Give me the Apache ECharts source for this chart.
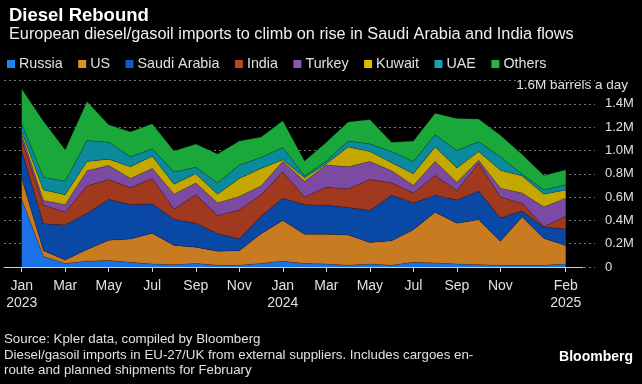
<!DOCTYPE html>
<html><head><meta charset="utf-8">
<script src="https://cdn.jsdelivr.net/npm/echarts@6/dist/echarts.min.js"></script>
<style>html,body{margin:0;padding:0;background:#000}#c{width:642px;height:384px}</style>
</head><body><div id="c"></div>
<script>
const months = ['2023-01','2023-02','2023-03','2023-04','2023-05','2023-06','2023-07','2023-08','2023-09','2023-10','2023-11','2023-12',
  '2024-01','2024-02','2024-03','2024-04','2024-05','2024-06','2024-07','2024-08','2024-09','2024-10','2024-11','2024-12','2025-01','2025-02'];
const tickLabels = ['Jan\n2023','','Mar','','May','','Jul','','Sep','','Nov','','Jan\n2024','','Mar','','May','','Jul','','Sep','','Nov','','','Feb\n2025'];
const yTicks = [0,0.2,0.4,0.6,0.8,1.0,1.2,1.4,1.6];
const unitLabel = '1.6M barrels a day';

const russia = [0.58,0.09,0.03,0.05,0.055,0.04,0.025,0.02,0.03,0.015,0.015,0.03,0.05,0.03,0.025,0.015,0.025,0.015,0.04,0.035,0.025,0.02,0.015,0.015,0.015,0.025];
const us     = [0.18,0.05,0.03,0.10,0.175,0.20,0.265,0.165,0.14,0.12,0.125,0.255,0.35,0.25,0.255,0.26,0.185,0.21,0.28,0.435,0.35,0.385,0.205,0.415,0.23,0.16];
const saudi  = [0.24,0.23,0.30,0.31,0.35,0.295,0.25,0.225,0.205,0.15,0.10,0.15,0.19,0.255,0.25,0.235,0.275,0.39,0.23,0.145,0.20,0.245,0.20,0.05,0.095,0.14];
const india  = [0.09,0.16,0.11,0.235,0.17,0.145,0.22,0.085,0.245,0.155,0.25,0.185,0.225,0.065,0.155,0.16,0.265,0.105,0.085,0.17,0.08,0.24,0.18,0.065,0.005,0.11];
const turkey = [0.045,0.04,0.065,0.13,0.12,0.08,0.085,0.13,0.10,0.11,0.115,0.075,0.09,0.135,0.19,0.19,0.155,0.105,0.065,0.12,0.07,0.025,0.075,0.09,0.17,0.155];
const kuwait = [0.025,0.09,0.085,0.08,0.055,0.10,0.105,0.085,0.08,0.075,0.155,0.15,0.015,0.03,0.01,0.17,0.085,0.07,0.10,0.125,0.125,0.075,0.155,0.145,0.11,0.07];
const uae    = [0.07,0.11,0.115,0.18,0.145,0.085,0.065,0.105,0.055,0.095,0.115,0.095,0.105,0.015,0.025,0.05,0.065,0.095,0.105,0.105,0.15,0.085,0.115,0.015,0.035,0.045];
const others = [0.30,0.48,0.27,0.335,0.15,0.215,0.215,0.18,0.20,0.25,0.205,0.175,0.23,0.13,0.16,0.165,0.21,0.08,0.175,0.185,0.275,0.195,0.185,0.17,0.125,0.13];

const seriesDefs = [
  ['Russia', russia, '#1e86f5', '#1a72e6'],
  ['US', us, '#e08d2a', '#c97b22'],
  ['Saudi Arabia', saudi, '#1658c0', '#0a48a6'],
  ['India', india, '#b8461f', '#a0391d'],
  ['Turkey', turkey, '#8c56b6', '#7c4aa2'],
  ['Kuwait', kuwait, '#d6c000', '#c4a800'],
  ['UAE', uae, '#16a0b4', '#0a8a9c'],
  ['Others', others, '#22b84a', '#1aa83a']
];

const FONT = '"Liberation Sans", Arial, sans-serif';
const TOP = 80.5, BOTTOM = 117;

const chart = echarts.init(document.getElementById('c'));
chart.setOption({
  backgroundColor: '#000',
  animation: false,
  textStyle: {fontFamily: FONT},
  title: [
    {text: 'Diesel Rebound', left: 4, top: 1, textStyle: {color: '#fff', fontSize: 18.5, fontWeight: 'bold', fontFamily: FONT}},
    {text: 'European diesel/gasoil imports to climb on rise in Saudi Arabia and India flows', left: 4, top: 22, textStyle: {color: '#f0f0f0', fontSize: 16.3, fontWeight: 'normal', fontFamily: FONT}},
    {text: unitLabel, right: 9, top: 73, textStyle: {color: '#e0e0e0', fontSize: 13.5, fontWeight: 'normal', fontFamily: FONT}}
  ],
  legend: {
    left: 2, top: 52, itemWidth: 8, itemHeight: 8, itemGap: 15.5, icon: 'rect',
    textStyle: {color: '#e0e0e0', fontSize: 14.3, fontFamily: FONT, padding: [0,0,0,-1]},
    data: seriesDefs.map(d => d[0])
  },
  grid: [
    {left: 4, right: 47, top: TOP, bottom: BOTTOM},
    {left: 4, right: 59, top: TOP, bottom: BOTTOM},
    {left: 21.7, right: 76.3, top: TOP, bottom: BOTTOM}
  ],
  xAxis: [
    {gridIndex: 0, type: 'value', show: false, min: 0, max: 1},
    {gridIndex: 1, type: 'value', min: 0, max: 1, axisLine: {show: true, lineStyle: {color: '#cfcfcf', width: 1}}, axisTick: {show: false}, axisLabel: {show: false}, splitLine: {show: false}},
    {gridIndex: 2, type: 'category', data: months, boundaryGap: false,
      axisLine: {show: false},
      axisTick: {show: true, length: 5, lineStyle: {color: '#cfcfcf'}, interval: (i) => tickLabels[i] !== ''},
      axisLabel: {interval: (i) => tickLabels[i] !== '', formatter: (v, i) => tickLabels[i], color: '#e0e0e0', fontSize: 14, lineHeight: 17, margin: 11, fontFamily: FONT},
      splitLine: {show: false}}
  ],
  yAxis: [
    {gridIndex: 0, type: 'value', position: 'right', min: 0, max: 1.6, interval: 0.2,
      axisLine: {show: false}, axisTick: {show: false},
      axisLabel: {color: '#e0e0e0', fontSize: 13, margin: 10, fontFamily: FONT,
        formatter: (v) => { const t = yTicks.find(k => Math.abs(k - v) < 1e-6); if (t === undefined || t >= 1.6) return ''; return t === 0 ? '0' : t.toFixed(1) + 'M'; }},
      splitLine: {show: true, lineStyle: {color: '#7a7a7a', type: [2, 3], width: 1}}},
    {gridIndex: 1, type: 'value', min: 0, max: 1.6, show: false},
    {gridIndex: 2, type: 'value', min: 0, max: 1.6, show: false}
  ],
  series: seriesDefs.map(d => ({
    name: d[0], type: 'line', stack: 'total', xAxisIndex: 2, yAxisIndex: 2,
    data: d[1], symbol: 'none', smooth: false,
    itemStyle: {color: d[2]},
    lineStyle: {width: 0.6, color: 'rgba(0,0,0,0.35)'},
    areaStyle: {color: d[3], opacity: 1}
  })),
  graphic: [
    {type: 'text', left: 4, top: 333, style: {text: 'Source: Kpler data, compiled by Bloomberg', fill: '#e0e0e0', font: '13.3px ' + FONT}},
    {type: 'text', left: 4, top: 349, style: {text: 'Diesel/gasoil imports in EU-27/UK from external suppliers. Includes cargoes en-', fill: '#e0e0e0', font: '13.3px ' + FONT}},
    {type: 'text', left: 4, top: 364, style: {text: 'route and planned shipments for February', fill: '#e0e0e0', font: '13.3px ' + FONT}},
    {type: 'text', right: 9, top: 350, style: {text: 'Bloomberg', fill: '#ffffff', font: 'bold 14px ' + FONT}}
  ]
});
</script></body></html>
